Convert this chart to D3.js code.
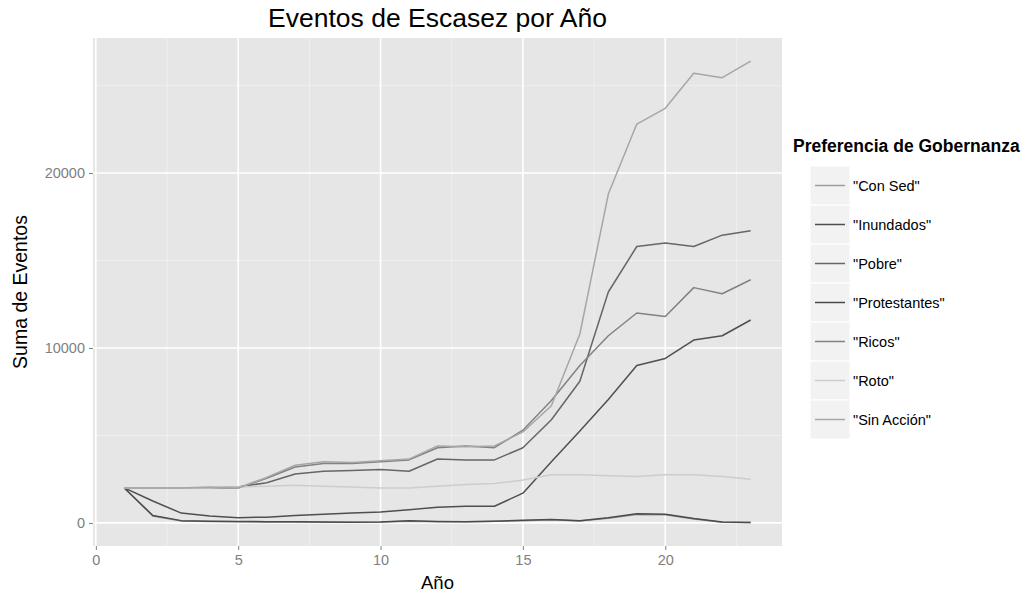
<!DOCTYPE html>
<html>
<head>
<meta charset="utf-8">
<script src="https://cdn.jsdelivr.net/npm/d3@7/dist/d3.min.js"></script>
<style>
  body { margin: 0; background: #fff; }
  text { font-family: "Liberation Sans", Arial, sans-serif; }
</style>
</head>
<body>
<div id="escasez"></div>
<script>
// data
const years = [1, 2, 3, 4, 5, 6, 7, 8, 9, 10, 11, 12, 13, 14, 15, 16, 17, 18, 19, 20, 21, 22, 23];

const conSed       = [2000, 400, 110, 80, 60, 50, 50, 40, 40, 50, 100, 70, 60, 90, 130, 180, 110, 260, 480, 470, 220, 40, 20];
const inundados    = [2000, 1250, 560, 400, 300, 330, 420, 500, 560, 620, 750, 900, 950, 950, 1700, 3500, 5250, 7050, 9000, 9400, 10450, 10700, 11600];
const pobre        = [2000, 2000, 2000, 2000, 2050, 2300, 2800, 2950, 3000, 3050, 2950, 3650, 3600, 3600, 4300, 5900, 8100, 13200, 15800, 16000, 15800, 16450, 16700];
const protestantes = [2000, 420, 130, 100, 80, 70, 60, 50, 40, 50, 120, 80, 60, 100, 150, 200, 120, 300, 520, 500, 250, 50, 30];
const ricos        = [2000, 2000, 2000, 2000, 2000, 2550, 3200, 3400, 3400, 3500, 3600, 4300, 4400, 4300, 5300, 7000, 9000, 10700, 12000, 11800, 13450, 13100, 13900];
const roto         = [2000, 2000, 2000, 2000, 2050, 2100, 2150, 2100, 2050, 2000, 2000, 2100, 2200, 2250, 2450, 2750, 2750, 2700, 2650, 2750, 2750, 2650, 2500];
const sinAccion    = [2000, 2000, 2000, 2050, 2000, 2600, 3300, 3500, 3450, 3550, 3650, 4400, 4350, 4400, 5200, 6700, 10800, 18800, 22800, 23700, 25700, 25450, 26400];

const seriesNames = ['"Con Sed"', '"Inundados"', '"Pobre"', '"Protestantes"', '"Ricos"', '"Roto"', '"Sin Acción"'];
const seriesValues = [conSed, inundados, pobre, protestantes, ricos, roto, sinAccion];

const xTicks = [0, 5, 10, 15, 20];
const xMinor = [2.5, 7.5, 12.5, 17.5, 22.5];
const yTicks = [0, 10000, 20000];
const yMinor = [5000, 15000, 25000];

(function escasez() {
  const width = 1029,
    height = 599,
    panel = { left: 93, right: 782, top: 38, bottom: 546 };

  const greys = ["#9c9c9c", "#4f4f4f", "#666666", "#4a4a4a", "#828282", "#cdcdcd", "#a6a6a6"];

  const svg = d3.select("#escasez")
    .append("svg")
    .attr("width", width)
    .attr("height", height);

  const series = seriesNames.map((name, i) => ({
    name: name,
    values: years.map((yr, j) => ({ x: yr, y: seriesValues[i][j] }))
  }));

  // ggplot style 5% expansion
  const xExt = d3.extent(years);
  const xPad = (xExt[1] - xExt[0]) * 0.05;
  const allY = seriesValues.flat();
  const yExt = [Math.min(0, d3.min(allY)), d3.max(allY)];
  const yPad = (yExt[1] - yExt[0]) * 0.05;

  const x = d3.scaleLinear([xExt[0] - xPad, xExt[1] + xPad], [panel.left, panel.right]);
  const y = d3.scaleLinear([yExt[0] - yPad, yExt[1] + yPad], [panel.bottom, panel.top]);
  const color = d3.scaleOrdinal(seriesNames, greys);

  // panel
  svg.append("rect")
    .attr("x", panel.left)
    .attr("y", panel.top)
    .attr("width", panel.right - panel.left)
    .attr("height", panel.bottom - panel.top)
    .attr("fill", "#e6e6e6");

  const grid = svg.append("g");
  grid.selectAll(".xminor").data(xMinor).join("line")
    .attr("x1", d => x(d)).attr("x2", d => x(d))
    .attr("y1", panel.top).attr("y2", panel.bottom)
    .attr("stroke", "#f2f2f2").attr("stroke-width", 0.8);
  grid.selectAll(".yminor").data(yMinor).join("line")
    .attr("class", "yminor")
    .attr("x1", panel.left).attr("x2", panel.right)
    .attr("y1", d => y(d)).attr("y2", d => y(d))
    .attr("stroke", "#f2f2f2").attr("stroke-width", 0.8);
  grid.selectAll(".xmajor").data(xTicks).join("line")
    .attr("class", "xmajor")
    .attr("x1", d => x(d)).attr("x2", d => x(d))
    .attr("y1", panel.top).attr("y2", panel.bottom)
    .attr("stroke", "#fff").attr("stroke-width", 1.6);
  grid.selectAll(".ymajor").data(yTicks).join("line")
    .attr("class", "ymajor")
    .attr("x1", panel.left).attr("x2", panel.right)
    .attr("y1", d => y(d)).attr("y2", d => y(d))
    .attr("stroke", "#fff").attr("stroke-width", 1.6);

  // axes
  const xAxis = svg.append("g")
    .attr("transform", `translate(0,${panel.bottom})`)
    .call(d3.axisBottom(x).tickValues(xTicks).tickSize(4).tickPadding(5).tickSizeOuter(0));
  const yAxis = svg.append("g")
    .attr("transform", `translate(${panel.left},0)`)
    .call(d3.axisLeft(y).tickValues(yTicks).tickFormat(d3.format("d")).tickSize(4).tickPadding(4).tickSizeOuter(0));

  [xAxis, yAxis].forEach(a => {
    a.select(".domain").remove();
    a.selectAll(".tick line").attr("stroke", "#7f7f7f");
    a.selectAll(".tick text")
      .attr("fill", "#7f7f7f")
      .style("font-size", "14.5px")
      .style("font-family", "'Liberation Sans', Arial, sans-serif");
  });

  // lines
  const line = d3.line().x(d => x(d.x)).y(d => y(d.y));
  svg.append("g")
    .selectAll("path")
    .data(series)
    .join("path")
    .attr("d", d => line(d.values))
    .attr("fill", "none")
    .attr("stroke", d => color(d.name))
    .attr("stroke-width", 1.5)
    .attr("stroke-linejoin", "round");

  // titles
  svg.append("text")
    .attr("x", (panel.left + panel.right) / 2)
    .attr("y", 27)
    .attr("text-anchor", "middle")
    .style("font-size", "26.5px")
    .text("Eventos de Escasez por Año");

  svg.append("text")
    .attr("x", (panel.left + panel.right) / 2)
    .attr("y", 589)
    .attr("text-anchor", "middle")
    .style("font-size", "18.5px")
    .text("Año");

  svg.append("text")
    .attr("transform", `translate(27,${(panel.top + panel.bottom) / 2}) rotate(-90)`)
    .attr("text-anchor", "middle")
    .style("font-size", "19.5px")
    .text("Suma de Eventos");

  // legend
  const legend = svg.append("g").attr("transform", "translate(793,0)");
  legend.append("text")
    .attr("x", 0)
    .attr("y", 152)
    .style("font-size", "17.5px")
    .style("font-weight", "bold")
    .text("Preferencia de Gobernanza");

  const keyH = 39, keyTop = 166;
  const item = legend.selectAll(".legend-item")
    .data(seriesNames)
    .join("g")
    .attr("class", "legend-item")
    .attr("transform", (d, i) => `translate(0,${keyTop + i * keyH})`);

  item.append("rect")
    .attr("x", 17).attr("y", 0)
    .attr("width", 40).attr("height", keyH)
    .attr("fill", "#f2f2f2")
    .attr("stroke", "#fff");
  item.append("line")
    .attr("x1", 22).attr("x2", 52)
    .attr("y1", keyH / 2).attr("y2", keyH / 2)
    .attr("stroke", d => color(d))
    .attr("stroke-width", 1.5);
  item.append("text")
    .attr("x", 60)
    .attr("y", keyH / 2)
    .attr("dy", "0.36em")
    .style("font-size", "14.5px")
    .text(d => d);
})();
</script>
</body>
</html>
